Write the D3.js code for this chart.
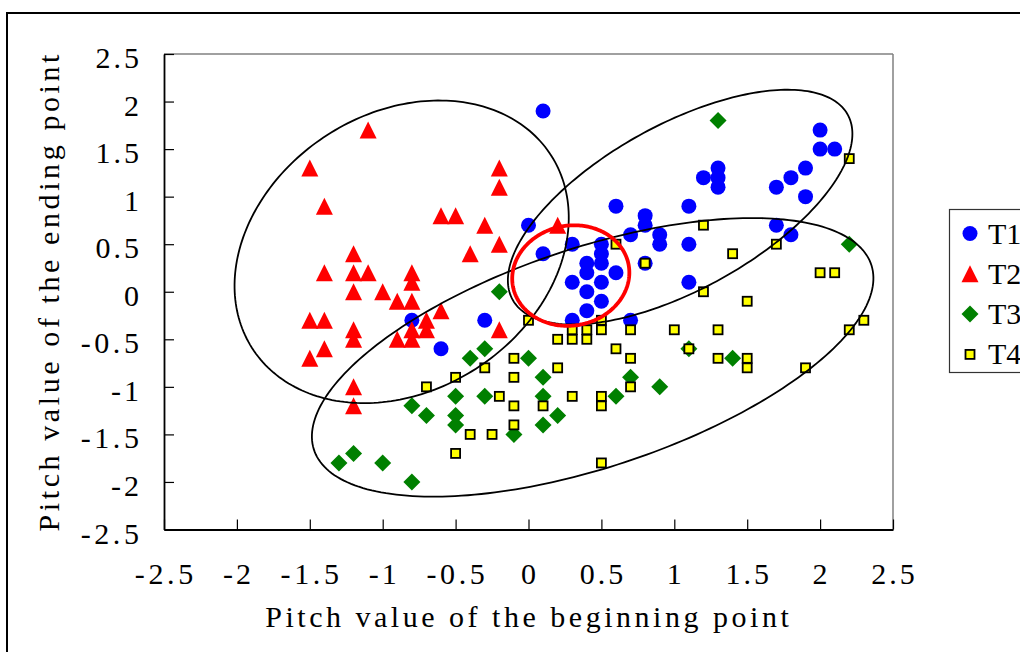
<!DOCTYPE html>
<html>
<head>
<meta charset="utf-8">
<script src="https://cdn.jsdelivr.net/npm/d3@7"></script>
<style>
  html, body { margin: 0; padding: 0; background: #fff; overflow: hidden; }
</style>
</head>
<body>
<svg id="chart" width="1020" height="652"></svg>
<script>
// ---- data ----
const xTicks = [-2.5, -2, -1.5, -1, -0.5, 0, 0.5, 1, 1.5, 2, 2.5];
const xTickLabels = ["-2.5", "-2", "-1.5", "-1", "-0.5", "0", "0.5", "1", "1.5", "2", "2.5"];
const yTicks = [-2.5, -2, -1.5, -1, -0.5, 0, 0.5, 1, 1.5, 2, 2.5];
const yTickLabels = ["-2.5", "-2", "-1.5", "-1", "-0.5", "0", "0.5", "1", "1.5", "2", "2.5"];
const seriesNames = ["T1", "T2", "T3", "T4"];
const xTitle = "Pitch value of the beginning point";
const yTitle = "Pitch value of the ending point";

// [beginning pitch, ending pitch]
const t1 = [
  [0.1, 1.9], [2.0, 1.7], [2.0, 1.5], [2.1, 1.5], [1.3, 1.3], [1.2, 1.2], [1.3, 1.2],
  [1.3, 1.1], [1.9, 1.3], [1.8, 1.2], [1.7, 1.1], [1.9, 1.0], [0.6, 0.9], [1.1, 0.9],
  [0.8, 0.8], [0.8, 0.7], [1.7, 0.7], [0.0, 0.7], [0.7, 0.6], [0.9, 0.6], [0.9, 0.5],
  [1.1, 0.5], [1.8, 0.6], [0.3, 0.5], [0.5, 0.5], [0.1, 0.4], [0.5, 0.4], [0.4, 0.3],
  [0.5, 0.3], [0.8, 0.3], [0.4, 0.2], [0.6, 0.2], [0.3, 0.1], [0.5, 0.1], [1.1, 0.1],
  [0.4, 0.0], [0.5, -0.1], [0.4, -0.2], [0.3, -0.3], [0.7, -0.3], [-0.8, -0.3],
  [-0.3, -0.3], [-0.6, -0.6]
];
const t2 = [
  [-1.1, 1.7], [-1.5, 1.3], [-1.4, 0.9], [-0.2, 1.3], [-0.2, 1.1], [-0.6, 0.8], [-0.5, 0.8],
  [-0.3, 0.7], [-0.2, 0.5], [-0.4, 0.4], [-1.2, 0.4], [-1.4, 0.2], [-1.2, 0.2], [-1.1, 0.2],
  [-0.8, 0.2], [-0.8, 0.1], [-1.2, 0.0], [-1.0, 0.0], [-0.9, -0.1], [-0.8, -0.1], [-0.6, -0.2],
  [-1.5, -0.3], [-1.4, -0.3], [-0.7, -0.3], [-0.8, -0.4], [-0.7, -0.4], [-1.2, -0.4],
  [-1.2, -0.5], [-0.9, -0.5], [-0.8, -0.5], [-0.2, -0.4], [-1.4, -0.6], [-1.5, -0.7],
  [-1.2, -1.0], [-1.2, -1.2], [0.2, 0.7]
];
const t3 = [
  [1.3, 1.8], [2.2, 0.5], [-0.2, 0.0], [-0.3, -0.6], [-0.4, -0.7], [0.0, -0.7], [0.1, -0.9],
  [0.1, -1.1], [-0.5, -1.1], [-0.3, -1.1], [0.6, -1.1], [-0.8, -1.2], [-0.7, -1.3],
  [-0.5, -1.3], [-0.5, -1.4], [0.1, -1.4], [0.2, -1.3], [-0.1, -1.5], [-1.2, -1.7],
  [-1.3, -1.8], [-1.0, -1.8], [-0.8, -2.0], [0.7, -0.9], [1.1, -0.6], [1.4, -0.7], [0.9, -1.0]
];
const t4 = [
  [2.2, 1.4], [1.2, 0.7], [0.6, 0.5], [1.7, 0.5], [1.4, 0.4], [0.8, 0.3], [2.0, 0.2],
  [2.1, 0.2], [1.2, 0.0], [1.5, -0.1], [2.3, -0.3], [2.2, -0.4], [0.0, -0.3], [0.5, -0.3],
  [0.3, -0.4], [0.4, -0.4], [0.5, -0.4], [0.7, -0.4], [1.0, -0.4], [1.3, -0.4], [0.2, -0.5],
  [0.3, -0.5], [0.4, -0.5], [0.6, -0.6], [1.1, -0.6], [-0.1, -0.7], [0.7, -0.7], [1.3, -0.7],
  [1.5, -0.7], [1.5, -0.8], [1.9, -0.8], [-0.3, -0.8], [0.2, -0.8], [-0.5, -0.9], [-0.1, -0.9],
  [-0.7, -1.0], [0.7, -1.0], [-0.2, -1.1], [0.3, -1.1], [0.5, -1.1], [-0.1, -1.2], [0.1, -1.2],
  [0.5, -1.2], [-0.1, -1.4], [-0.4, -1.5], [-0.25, -1.5], [-0.5, -1.7], [0.5, -1.8]
];

// cluster outlines in data units: centre, semi-axes, rotation of the major axis (deg)
const clusterEllipses = [
  { cx: -0.87, cy: 0.42, a: 1.63, b: 1.09, angle: 73 },
  { cx: 1.04, cy: 0.89, a: 1.54, b: 0.74, angle: 47 },
  { cx: 0.44, cy: -0.69, a: 2.17, b: 1.07, angle: 32 }
];
const overlapEllipse = { cx: 0.29, cy: 0.17, a: 0.53, b: 0.40, angle: 84 };

// ---- layout ----
const svg = d3.select("#chart");
const plot = { left: 164, top: 54, right: 893, bottom: 529.5 };
const x = d3.scaleLinear().domain([-2.5, 2.5]).range([plot.left, plot.right]);
const y = d3.scaleLinear().domain([-2.5, 2.5]).range([plot.bottom, plot.top]);

const FONT = 30;      // nominal text size
const CELL = 15.5;    // half-width character cell

// text laid out on an even character grid: extra letter spacing pads each glyph to CELL
function cellText(parent, str, xPos, yPos, anchor) {
  const target = str.length * CELL;
  const t = parent.append("text")
    .attr("y", yPos)
    .attr("font-size", FONT)
    .style("font-family", '"Liberation Serif"')
    .attr("fill", "#000")
    .text(str);
  let natural = target;
  try { natural = t.node().getComputedTextLength(); } catch (e) { natural = target; }
  const spacing = str.length > 1 ? (target - natural) / str.length : 0;
  if (spacing > 0) t.style("letter-spacing", spacing + "px");
  const width = natural + (spacing > 0 ? spacing * str.length : 0);
  let sx = xPos;
  if (anchor === "middle") sx = xPos - width / 2 + (spacing > 0 ? spacing / 2 : 0);
  else if (anchor === "end") sx = xPos - width + (spacing > 0 ? spacing : 0);
  t.attr("x", sx);
  return t;
}

// outer frame
svg.append("rect")
  .attr("x", 7).attr("y", 13).attr("width", 1100).attr("height", 700)
  .attr("fill", "none").attr("stroke", "#000").attr("stroke-width", 2);

// plot area frame: top/right grey, left/bottom black axes
svg.append("line").attr("x1", plot.left).attr("x2", plot.right).attr("y1", plot.top).attr("y2", plot.top)
  .attr("stroke", "#808080").attr("stroke-width", 1.5);
svg.append("line").attr("x1", plot.right).attr("x2", plot.right).attr("y1", plot.top).attr("y2", plot.bottom)
  .attr("stroke", "#808080").attr("stroke-width", 1.5);

// axes with inward ticks
const xAxis = d3.axisBottom(x).tickValues(xTicks).tickSizeInner(-10).tickSizeOuter(0).tickFormat("");
const yAxis = d3.axisLeft(y).tickValues(yTicks).tickSizeInner(-10).tickSizeOuter(0).tickFormat("");
const gx = svg.append("g").attr("transform", `translate(0,${plot.bottom})`).call(xAxis);
const gy = svg.append("g").attr("transform", `translate(${plot.left},0)`).call(yAxis);
[gx, gy].forEach(g => {
  g.select(".domain").attr("stroke", "#000").attr("stroke-width", 1.8);
  g.selectAll(".tick line").attr("stroke", "#000").attr("stroke-width", 1.2);
});

// tick labels
const labels = svg.append("g");
xTicks.forEach((v, i) => cellText(labels, xTickLabels[i], x(v), 584, "middle"));
yTicks.forEach((v, i) => cellText(labels, yTickLabels[i], 139, y(v) + 14, "end"));

// axis titles
cellText(svg.append("g"), xTitle, 527, 627, "middle");
cellText(svg.append("g").attr("transform", "translate(59,293) rotate(-90)"), yTitle, 0, 0, "middle");

// ---- markers ----
const triPath = "M0,-8.5L8.5,8.5L-8.5,8.5Z";
const diaPath = "M0,-8.5L8.5,0L0,8.5L-8.5,0Z";
const marks = svg.append("g");

function drawMarker(g, type, px, py) {
  if (type === 0) {
    g.append("circle").attr("cx", px).attr("cy", py).attr("r", 7.5).attr("fill", "#0000ff");
  } else if (type === 1) {
    g.append("path").attr("d", triPath).attr("transform", `translate(${px},${py})`).attr("fill", "#ff0000");
  } else if (type === 2) {
    g.append("path").attr("d", diaPath).attr("transform", `translate(${px},${py})`).attr("fill", "#008000");
  } else {
    g.append("rect").attr("x", px - 4.5).attr("y", py - 4.5).attr("width", 9).attr("height", 9)
      .attr("fill", "#ffff00").attr("stroke", "#000").attr("stroke-width", 1.8);
  }
}

[t1, t2, t3, t4].forEach((series, k) => {
  series.forEach(d => drawMarker(marks, k, x(d[0]), y(d[1])));
});

// ---- ellipses ----
function ellipsePath(e) {
  const phi = e.angle * Math.PI / 180;
  const pts = d3.range(0, 360, 1.5).map(deg => {
    const t = deg * Math.PI / 180;
    const dx = e.a * Math.cos(t) * Math.cos(phi) - e.b * Math.sin(t) * Math.sin(phi);
    const dy = e.a * Math.cos(t) * Math.sin(phi) + e.b * Math.sin(t) * Math.cos(phi);
    return [x(e.cx + dx), y(e.cy + dy)];
  });
  return d3.line().curve(d3.curveLinearClosed)(pts);
}
svg.append("g").selectAll("path").data(clusterEllipses).join("path")
  .attr("d", ellipsePath).attr("fill", "none").attr("stroke", "#000").attr("stroke-width", 1.8);
svg.append("path").attr("d", ellipsePath(overlapEllipse))
  .attr("fill", "none").attr("stroke", "#ff0000").attr("stroke-width", 3.8);

// ---- legend ----
const legend = svg.append("g");
legend.append("rect").attr("x", 949.5).attr("y", 209.5).attr("width", 120).attr("height", 163)
  .attr("fill", "#fff").attr("stroke", "#333").attr("stroke-width", 1.2);
seriesNames.forEach((name, i) => {
  const cy = 233.5 + i * 40.3;
  drawMarker(legend, i, 970, cy);
  cellText(legend, name, 988, cy + 10, "start");
});
</script>
</body>
</html>
